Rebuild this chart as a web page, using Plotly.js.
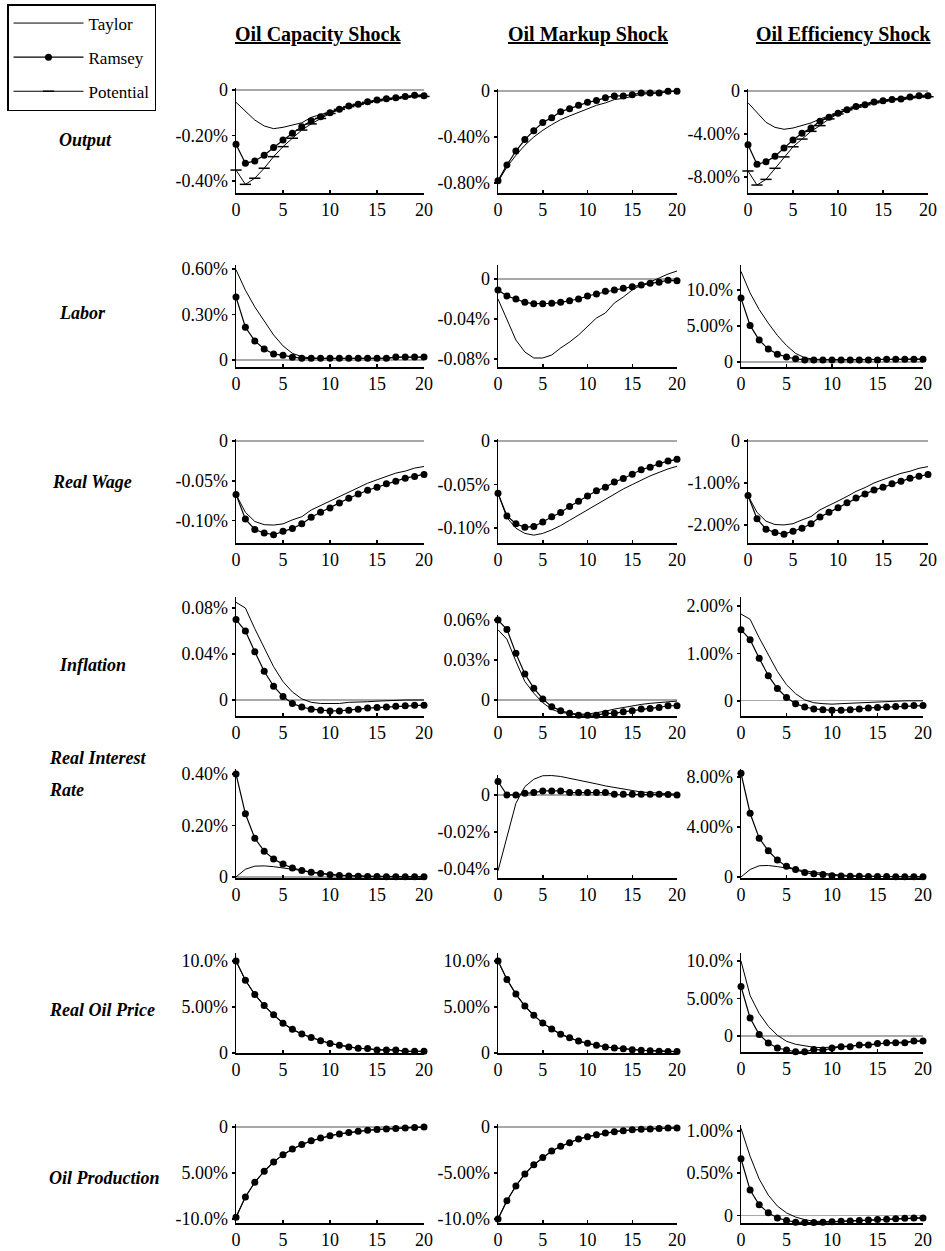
<!DOCTYPE html>
<html><head><meta charset="utf-8">
<script src="https://cdn.plot.ly/plotly-3.0.1.min.js"></script>
<style>html,body{margin:0;padding:0;background:#fff}</style>
</head><body><div id="chart" style="width:945px;height:1251px"></div>
<script>
// ---------------- DATA ----------------
const steps = [0,1,2,3,4,5,6,7,8,9,10,11,12,13,14,15,16,17,18,19,20];
const seriesNames = ['Taylor','Ramsey','Potential'];
const shocks = ['Oil Capacity Shock','Oil Markup Shock','Oil Efficiency Shock'];
const variables = ['Output','Labor','Real Wage','Inflation','Real Interest','Real Oil Price','Oil Production'];
const xTicks = [0,5,10,15,20];

// Output
const outputCapTaylor = [-0.054,-0.095,-0.132,-0.158,-0.170,-0.164,-0.154,-0.144,-0.120,-0.107,-0.095,-0.084,-0.072,-0.063,-0.053,-0.045,-0.040,-0.034,-0.028,-0.022,-0.019];
const outputCapRamsey = [-0.239,-0.322,-0.312,-0.287,-0.253,-0.220,-0.190,-0.161,-0.135,-0.117,-0.100,-0.084,-0.070,-0.062,-0.051,-0.044,-0.038,-0.034,-0.028,-0.023,-0.025];
const outputCapPotential = [-0.352,-0.415,-0.388,-0.344,-0.293,-0.249,-0.212,-0.176,-0.149,-0.125,-0.103,-0.085,-0.073,-0.063,-0.054,-0.047,-0.041,-0.037,-0.031,-0.028,-0.028];
const outputMarTaylor = [-0.79,-0.66,-0.56,-0.472,-0.40,-0.342,-0.293,-0.249,-0.217,-0.188,-0.159,-0.125,-0.104,-0.075,-0.064,-0.046,-0.029,-0.023,-0.014,-0.006,0];
const outputMarRamsey = [-0.78,-0.643,-0.522,-0.423,-0.345,-0.275,-0.232,-0.180,-0.154,-0.125,-0.099,-0.084,-0.058,-0.043,-0.043,-0.032,-0.017,-0.017,-0.017,-0.003,-0.003];
const outputEffTaylor = [-1.09,-2.03,-2.91,-3.38,-3.56,-3.44,-3.22,-2.97,-2.60,-2.28,-2.03,-1.75,-1.50,-1.28,-1.06,-0.91,-0.75,-0.63,-0.53,-0.41,-0.34];
const outputEffRamsey = [-5.00,-6.81,-6.59,-6.06,-5.31,-4.56,-3.94,-3.44,-2.81,-2.44,-2.06,-1.75,-1.44,-1.28,-1.03,-0.91,-0.78,-0.75,-0.56,-0.44,-0.44];
const outputEffPotential = [-7.44,-8.75,-8.22,-7.19,-6.13,-5.19,-4.47,-3.75,-3.22,-2.59,-2.13,-1.75,-1.50,-1.28,-1.09,-0.94,-0.81,-0.75,-0.63,-0.53,-0.53];

// Labor
const laborCapTaylor = [0.595,0.46,0.35,0.254,0.165,0.093,0.044,0.022,0.013,0.011,0.011,0.011,0.011,0.011,0.011,0.011,0.011,0.018,0.018,0.018,0.018];
const laborCapRamsey = [0.415,0.216,0.126,0.073,0.040,0.031,0.018,0.011,0.011,0.011,0.011,0.011,0.011,0.011,0.011,0.011,0.011,0.020,0.020,0.020,0.020];
const laborMarTaylor = [-0.020,-0.041,-0.061,-0.073,-0.079,-0.079,-0.076,-0.069,-0.063,-0.056,-0.048,-0.039,-0.034,-0.024,-0.018,-0.011,-0.006,-0.003,0.001,0.005,0.008];
const laborMarRamsey = [-0.011,-0.017,-0.020,-0.0233,-0.0247,-0.0247,-0.0243,-0.0233,-0.0217,-0.020,-0.017,-0.015,-0.0123,-0.011,-0.0093,-0.0077,-0.006,-0.0043,-0.0033,-0.0013,-0.0017];
const laborEffTaylor = [12.6,9.6,7.3,5.4,3.7,2.3,1.2,0.6,0.4,0.3,0.3,0.3,0.3,0.3,0.3,0.3,0.3,0.4,0.4,0.4,0.4];
const laborEffRamsey = [8.9,5.1,3.05,1.8,1.1,0.7,0.45,0.3,0.3,0.3,0.3,0.3,0.3,0.3,0.3,0.3,0.4,0.4,0.4,0.4,0.4];

// Real wage
const wageCapTaylor = [-0.067,-0.0895,-0.101,-0.105,-0.1055,-0.104,-0.099,-0.095,-0.0866,-0.081,-0.0756,-0.0697,-0.0634,-0.0588,-0.053,-0.0487,-0.0441,-0.0403,-0.0378,-0.034,-0.032];
const wageCapRamsey = [-0.067,-0.098,-0.111,-0.1155,-0.1176,-0.1134,-0.1097,-0.104,-0.0958,-0.0895,-0.084,-0.0777,-0.0718,-0.0664,-0.0618,-0.058,-0.0538,-0.0504,-0.0466,-0.0445,-0.042];
const wageMarTaylor = [-0.060,-0.088,-0.100,-0.106,-0.108,-0.106,-0.102,-0.097,-0.091,-0.085,-0.079,-0.073,-0.067,-0.061,-0.055,-0.050,-0.045,-0.040,-0.036,-0.032,-0.029];
const wageMarRamsey = [-0.060,-0.086,-0.095,-0.099,-0.098,-0.093,-0.087,-0.082,-0.075,-0.069,-0.063,-0.057,-0.053,-0.047,-0.043,-0.038,-0.033,-0.030,-0.026,-0.023,-0.021];
const wageEffTaylor = [-1.30,-1.70,-1.91,-1.99,-2.00,-1.97,-1.88,-1.80,-1.64,-1.54,-1.43,-1.32,-1.20,-1.11,-1.00,-0.92,-0.84,-0.77,-0.72,-0.65,-0.61];
const wageEffRamsey = [-1.30,-1.85,-2.10,-2.18,-2.22,-2.15,-2.08,-1.97,-1.81,-1.70,-1.59,-1.47,-1.36,-1.26,-1.17,-1.10,-1.02,-0.96,-0.89,-0.84,-0.80];

// Inflation
const inflCapTaylor = [0.085,0.080,0.062,0.045,0.029,0.016,0.007,0.001,-0.002,-0.003,-0.003,-0.003,-0.002,-0.002,-0.0015,-0.001,-0.0005,0,0,0,0];
const inflCapRamsey = [0.070,0.060,0.042,0.025,0.012,0.003,-0.003,-0.006,-0.008,-0.009,-0.0095,-0.0095,-0.009,-0.008,-0.007,-0.0065,-0.006,-0.0055,-0.005,-0.0045,-0.0045];
const inflMarTaylor = [0.0527,0.0456,0.0291,0.0139,0.0051,-0.002,-0.007,-0.0094,-0.010,-0.0106,-0.0106,-0.0096,-0.0084,-0.0068,-0.0056,-0.0043,-0.0033,-0.0025,-0.002,-0.0013,-0.0008];
const inflMarRamsey = [0.060,0.053,0.035,0.0195,0.0089,0.0008,-0.005,-0.008,-0.010,-0.0114,-0.0114,-0.0114,-0.010,-0.010,-0.0089,-0.008,-0.0068,-0.0063,-0.0056,-0.0043,-0.0043];
const inflEffTaylor = [1.83,1.72,1.33,0.96,0.62,0.34,0.15,0.02,-0.04,-0.06,-0.07,-0.06,-0.05,-0.04,-0.03,-0.02,-0.01,0,0,0,0];
const inflEffRamsey = [1.50,1.29,0.90,0.53,0.26,0.07,-0.06,-0.13,-0.17,-0.19,-0.20,-0.20,-0.19,-0.17,-0.15,-0.14,-0.13,-0.12,-0.11,-0.10,-0.10];

// Real interest rate
const rateCapTaylor = [0,0.030,0.042,0.043,0.040,0.035,0.029,0.023,0.018,0.014,0.010,0.007,0.005,0.004,0.003,0.002,0.001,0.001,0.001,0,0];
const rateCapRamsey = [0.40,0.245,0.15,0.10,0.07,0.05,0.035,0.025,0.018,0.013,0.009,0.006,0.004,0.003,0.002,0.002,0.001,0.001,0.001,0.001,0.001];
const rateMarTaylor = [-0.041,-0.0227,-0.0045,0.0045,0.0085,0.0104,0.0105,0.0100,0.0091,0.0082,0.0073,0.0060,0.0049,0.0040,0.0031,0.0024,0.0016,0.0013,0.0009,0.0005,0.0004];
const rateMarRamsey = [0.0073,0,0,0.0009,0.0013,0.0022,0.0022,0.0022,0.0013,0.0013,0.0013,0.0013,0.0013,0.0004,0.0004,0.0004,0.0004,0.0004,0.0004,0.0002,0];
const rateEffTaylor = [0,0.60,0.90,0.92,0.83,0.74,0.62,0.50,0.38,0.29,0.21,0.15,0.11,0.08,0.06,0.04,0.03,0.02,0.01,0.01,0];
const rateEffRamsey = [8.3,5.1,3.1,2.1,1.35,0.85,0.60,0.35,0.25,0.20,0.10,0.08,0.06,0.05,0.04,0.03,0.03,0.02,0.02,0.02,0.02];

// Real oil price
const oilPriceCapTaylor = [10.0,7.9,6.36,5.15,4.15,3.24,2.57,2.06,1.69,1.32,1.03,0.85,0.66,0.51,0.48,0.33,0.33,0.33,0.18,0.18,0.18];
const oilPriceCapRamsey = [10.0,7.9,6.36,5.15,4.15,3.24,2.57,2.06,1.69,1.32,1.03,0.85,0.66,0.51,0.48,0.33,0.33,0.33,0.18,0.18,0.18];
const oilPriceMarTaylor = [10.0,8.0,6.4,5.1,4.1,3.25,2.6,2.05,1.65,1.3,1.05,0.85,0.65,0.55,0.45,0.35,0.3,0.25,0.2,0.15,0.15];
const oilPriceMarRamsey = [10.0,8.0,6.4,5.1,4.1,3.25,2.6,2.05,1.65,1.3,1.05,0.85,0.65,0.55,0.45,0.35,0.3,0.25,0.2,0.15,0.15];
const oilPriceEffTaylor = [10.0,5.4,3.0,1.3,0.1,-0.7,-1.1,-1.35,-1.5,-1.55,-1.5,-1.4,-1.3,-1.2,-1.1,-1.0,-0.9,-0.85,-0.8,-0.7,-0.65];
const oilPriceEffRamsey = [6.6,2.4,0.2,-0.93,-1.6,-1.87,-2.1,-2.1,-1.78,-1.87,-1.6,-1.42,-1.42,-1.2,-1.2,-1.0,-0.9,-0.9,-0.9,-0.67,-0.67];

// Oil production
const oilProdCapTaylor = [-9.8,-7.6,-6.0,-4.8,-3.8,-3.0,-2.4,-1.9,-1.5,-1.2,-0.95,-0.75,-0.6,-0.45,-0.35,-0.28,-0.2,-0.15,-0.1,-0.05,0];
const oilProdCapRamsey = [-9.8,-7.6,-6.0,-4.8,-3.8,-3.0,-2.4,-1.9,-1.5,-1.2,-0.95,-0.75,-0.6,-0.45,-0.35,-0.28,-0.2,-0.15,-0.1,-0.05,0];
const oilProdMarTaylor = [-10.0,-8.0,-6.4,-5.1,-4.1,-3.3,-2.6,-2.1,-1.7,-1.3,-1.05,-0.85,-0.65,-0.5,-0.4,-0.3,-0.25,-0.2,-0.15,-0.1,-0.1];
const oilProdMarRamsey = [-10.0,-8.0,-6.4,-5.1,-4.1,-3.3,-2.6,-2.1,-1.7,-1.3,-1.05,-0.85,-0.65,-0.5,-0.4,-0.3,-0.25,-0.2,-0.15,-0.1,-0.1];
const oilProdEffTaylor = [1.03,0.70,0.43,0.24,0.11,0.03,-0.02,-0.05,-0.07,-0.075,-0.075,-0.07,-0.065,-0.06,-0.055,-0.05,-0.045,-0.04,-0.035,-0.03,-0.028];
const oilProdEffRamsey = [0.67,0.30,0.125,0.03,-0.03,-0.06,-0.08,-0.085,-0.085,-0.08,-0.075,-0.07,-0.065,-0.06,-0.055,-0.05,-0.045,-0.04,-0.035,-0.03,-0.03];

// Y tick values and labels
const outputCapTicks = [0,-0.2,-0.4],   outputCapLabels = ['0','-0.20%','-0.40%'];
const outputMarTicks = [0,-0.4,-0.8],   outputMarLabels = ['0','-0.40%','-0.80%'];
const outputEffTicks = [0,-4,-8],       outputEffLabels = ['0','-4.00%','-8.00%'];
const laborCapTicks = [0.6,0.3,0],      laborCapLabels = ['0.60%','0.30%','0'];
const laborMarTicks = [0,-0.04,-0.08],  laborMarLabels = ['0','-0.04%','-0.08%'];
const laborEffTicks = [10,5,0],         laborEffLabels = ['10.0%','5.00%','0'];
const wageCapTicks = [0,-0.05,-0.10],   wageCapLabels = ['0','-0.05%','-0.10%'];
const wageMarTicks = [0,-0.05,-0.10],   wageMarLabels = ['0','-0.05%','-0.10%'];
const wageEffTicks = [0,-1,-2],         wageEffLabels = ['0','-1.00%','-2.00%'];
const inflCapTicks = [0.08,0.04,0],     inflCapLabels = ['0.08%','0.04%','0'];
const inflMarTicks = [0.06,0.03,0],     inflMarLabels = ['0.06%','0.03%','0'];
const inflEffTicks = [2,1,0],           inflEffLabels = ['2.00%','1.00%','0'];
const rateCapTicks = [0.4,0.2,0],       rateCapLabels = ['0.40%','0.20%','0'];
const rateMarTicks = [0,-0.02,-0.04],   rateMarLabels = ['0','-0.02%','-0.04%'];
const rateEffTicks = [8,4,0],           rateEffLabels = ['8.00%','4.00%','0'];
const oilPriceCapTicks = [10,5,0],      oilPriceCapLabels = ['10.0%','5.00%','0'];
const oilPriceMarTicks = [10,5,0],      oilPriceMarLabels = ['10.0%','5.00%','0'];
const oilPriceEffTicks = [10,5,0],      oilPriceEffLabels = ['10.0%','5.00%','0'];
const oilProdCapTicks = [0,-5,-10],     oilProdCapLabels = ['0','5.00%','-10.0%'];
const oilProdMarTicks = [0,-5,-10],     oilProdMarLabels = ['0','-5.00%','-10.0%'];
const oilProdEffTicks = [1,0.5,0],      oilProdEffLabels = ['1.00%','0.50%','0'];

// ---------------- PANELS ----------------
const panels = [
  [ {t:outputCapTaylor,r:outputCapRamsey,p:outputCapPotential,tv:outputCapTicks,tt:outputCapLabels},
    {t:outputMarTaylor,r:outputMarRamsey,tv:outputMarTicks,tt:outputMarLabels},
    {t:outputEffTaylor,r:outputEffRamsey,p:outputEffPotential,tv:outputEffTicks,tt:outputEffLabels} ],
  [ {t:laborCapTaylor,r:laborCapRamsey,tv:laborCapTicks,tt:laborCapLabels},
    {t:laborMarTaylor,r:laborMarRamsey,tv:laborMarTicks,tt:laborMarLabels},
    {t:laborEffTaylor,r:laborEffRamsey,tv:laborEffTicks,tt:laborEffLabels} ],
  [ {t:wageCapTaylor,r:wageCapRamsey,tv:wageCapTicks,tt:wageCapLabels},
    {t:wageMarTaylor,r:wageMarRamsey,tv:wageMarTicks,tt:wageMarLabels},
    {t:wageEffTaylor,r:wageEffRamsey,tv:wageEffTicks,tt:wageEffLabels} ],
  [ {t:inflCapTaylor,r:inflCapRamsey,tv:inflCapTicks,tt:inflCapLabels},
    {t:inflMarTaylor,r:inflMarRamsey,tv:inflMarTicks,tt:inflMarLabels},
    {t:inflEffTaylor,r:inflEffRamsey,tv:inflEffTicks,tt:inflEffLabels} ],
  [ {t:rateCapTaylor,r:rateCapRamsey,tv:rateCapTicks,tt:rateCapLabels},
    {t:rateMarTaylor,r:rateMarRamsey,tv:rateMarTicks,tt:rateMarLabels},
    {t:rateEffTaylor,r:rateEffRamsey,tv:rateEffTicks,tt:rateEffLabels} ],
  [ {t:oilPriceCapTaylor,r:oilPriceCapRamsey,tv:oilPriceCapTicks,tt:oilPriceCapLabels},
    {t:oilPriceMarTaylor,r:oilPriceMarRamsey,tv:oilPriceMarTicks,tt:oilPriceMarLabels},
    {t:oilPriceEffTaylor,r:oilPriceEffRamsey,tv:oilPriceEffTicks,tt:oilPriceEffLabels} ],
  [ {t:oilProdCapTaylor,r:oilProdCapRamsey,tv:oilProdCapTicks,tt:oilProdCapLabels},
    {t:oilProdMarTaylor,r:oilProdMarRamsey,tv:oilProdMarTicks,tt:oilProdMarLabels},
    {t:oilProdEffTaylor,r:oilProdEffRamsey,tv:oilProdEffTicks,tt:oilProdEffLabels} ]
];

// ---------------- GEOMETRY (pixels: top, bottom, y-range low, y-range high) ----------------
const W = 945, H = 1251;
const geom = [
  [[88,193,-0.453,0.009],[89,193,-0.887,0.017],[89,193,-9.49,0.19]],
  [[265,367,-0.046,0.626],[265,367,-0.088,0.014],[265,367,-0.69,13.5]],
  [[439,543,-0.128,0.0025],[439,543,-0.117,0.0023],[439,543,-2.43,0.048]],
  [[597,716,-0.0139,0.0896],[615,716,-0.012,0.0638],[597,716,-0.32,2.19]],
  [[769,878,-0.004,0.419],[775,878,-0.0449,0.0108],[769,878,-0.08,8.64]],
  [[953,1053,0,10.87],[953,1053,0,10.87],[953,1052,-2.13,11.07]],
  [[1124,1223,-10.43,0.33],[1124,1223,-10.43,0.33],[1125,1223,-0.09,1.07]]
];
const colX = [[236,424],[498,677],[741,923]];
const colXWide = [[236,424],[498,677],[748,928]];
const rowLabelPos = [[57,140],[57,313],[50,482],[57,665],[47,758],[47,1010],[47,1178]];
const colTitleX = [318,588,843];

const FONT = '"Liberation Serif", "Times New Roman", Times, serif';
const traces = [];
const layout = {
  width: W, height: H,
  margin: {l:0, r:0, t:0, b:0},
  paper_bgcolor: '#fff', plot_bgcolor: 'rgba(0,0,0,0)',
  font: {family: FONT, color: '#000', size: 16},
  showlegend: true,
  legend: {x: 7/W, y: 1 - 4/H, xanchor: 'left', yanchor: 'top',
           bordercolor: '#000', borderwidth: 1.5, bgcolor: '#fff',
           font: {family: FONT, size: 17, color: '#000'}, tracegroupgap: 9, itemwidth: 70},
  annotations: [], shapes: []
};

let k = 0;
for (let r = 0; r < 7; r++) {
  for (let c = 0; c < 3; c++) {
    k++;
    const sfx = k === 1 ? '' : String(k);
    const P = panels[r][c];
    const g = geom[r][c];
    const xs = (r === 0 || r === 2) ? colXWide[c] : colX[c];
    layout['xaxis' + sfx] = {
      domain: [xs[0] / W, xs[1] / W], range: [0, 20], anchor: 'y' + sfx,
      showline: true, linecolor: '#000', linewidth: 1.5, mirror: false,
      showgrid: false, zeroline: false,
      ticks: 'inside', ticklen: 3, tickwidth: 1.5, tickcolor: '#000',
      tickvals: xTicks, ticktext: xTicks.map(String),
      tickfont: {family: FONT, size: 18, color: '#000'}, fixedrange: true
    };
    layout['yaxis' + sfx] = {
      domain: [1 - g[1] / H, 1 - g[0] / H], range: [g[2], g[3]], anchor: 'x' + sfx,
      showline: true, linecolor: '#000', linewidth: 1.5,
      showgrid: false, zeroline: true, zerolinecolor: '#a8a8a8', zerolinewidth: 1.2,
      ticks: 'outside', ticklen: 3, tickwidth: 1.5, tickcolor: '#000',
      tickvals: P.tv, ticktext: P.tt,
      tickfont: {family: FONT, size: 18, color: '#000'}, fixedrange: true
    };
    const first = (k === 1);
    if (P.p) {
      traces.push({x: steps, y: P.p, xaxis: 'x' + sfx, yaxis: 'y' + sfx, name: seriesNames[2],
        legendgroup: 'g3', legendrank: 3, showlegend: first, mode: 'lines+markers', cliponaxis: false,
        line: {color: '#000', width: 1},
        marker: {symbol: 'line-ew-open', size: 8, color: '#000', line: {color: '#000', width: 1.5}}});
    }
    traces.push({x: steps, y: P.r, xaxis: 'x' + sfx, yaxis: 'y' + sfx, name: seriesNames[1],
      legendgroup: 'g2', legendrank: 2, showlegend: first, mode: 'lines+markers', cliponaxis: false,
      line: {color: '#000', width: 1.2},
      marker: {symbol: 'circle', size: 7, color: '#000'}});
    traces.push({x: steps, y: P.t, xaxis: 'x' + sfx, yaxis: 'y' + sfx, name: seriesNames[0],
      legendgroup: 'g1', legendrank: 1, showlegend: first, mode: 'lines', cliponaxis: false,
      line: {color: '#000', width: 1}});
  }
}

// column titles
for (let c = 0; c < 3; c++) {
  layout.annotations.push({xref: 'paper', yref: 'paper', x: colTitleX[c] / W, y: 1 - 35 / H,
    xanchor: 'center', yanchor: 'middle', showarrow: false,
    text: '<u><b>' + shocks[c] + '</b></u>', font: {family: FONT, size: 20, color: '#000'}});
}
// row labels
for (let r = 0; r < 7; r++) {
  layout.annotations.push({xref: 'paper', yref: 'paper', x: rowLabelPos[r][0] / W, y: 1 - rowLabelPos[r][1] / H,
    xanchor: 'left', yanchor: 'middle', showarrow: false,
    text: '<b><i>' + variables[r] + '</i></b>', font: {family: FONT, size: 18, color: '#000'}});
}
layout.annotations.push({xref: 'paper', yref: 'paper', x: 47 / W, y: 1 - 790 / H,
  xanchor: 'left', yanchor: 'middle', showarrow: false,
  text: '<b><i>Rate</i></b>', font: {family: FONT, size: 18, color: '#000'}});

Plotly.newPlot('chart', traces, layout, {staticPlot: true, displayModeBar: false});
</script>
</body></html>
